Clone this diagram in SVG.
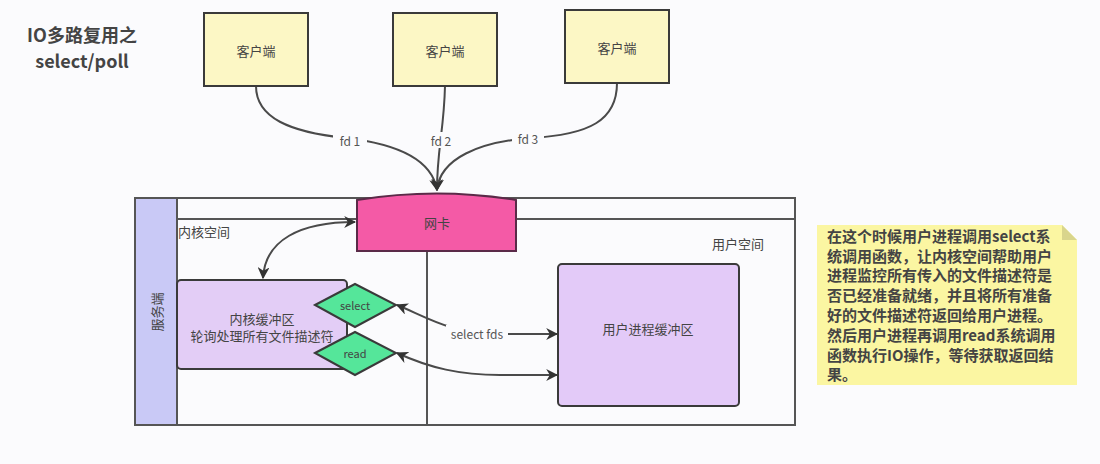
<svg xmlns="http://www.w3.org/2000/svg" width="1100" height="464" viewBox="0 0 1100 464">
<defs>
<style>
.t{font-family:"Noto Sans CJK SC","Liberation Sans",sans-serif;fill:#444;}
.c{text-anchor:middle;dominant-baseline:central;}
.box{stroke:#3a3a3a;stroke-width:2;}
.ln{fill:none;stroke:#4a4a4a;stroke-width:2;}
.frame{fill:none;stroke:#555;stroke-width:2;}
.lbl{font-size:12px;fill:#555;}
</style>
<marker id="ah2" viewBox="0 0 10 10" refX="9" refY="5" markerWidth="12" markerHeight="12" markerUnits="userSpaceOnUse" orient="auto-start-reverse">
<path d="M0,0 L10,5 L0,10 L3,5 Z" fill="#333"/>
</marker>
</defs>
<rect width="1100" height="464" fill="#fbfbfd"/>

<g id="title">
<text class="t c" x="82" y="34" font-size="18" font-weight="bold" fill="#555">IO多路复用之</text>
<text class="t c" x="82" y="60" font-size="18" font-weight="bold" fill="#555">select/poll</text>
</g>

<g id="server-frame">
<rect x="135" y="198" width="660" height="227" class="frame"/>
<rect x="135" y="198" width="42" height="227" fill="#c9c9f6" stroke="#555" stroke-width="2"/>
<line x1="177" y1="219" x2="795" y2="219" stroke="#555" stroke-width="2"/>
<line x1="427" y1="251" x2="427" y2="425" stroke="#555" stroke-width="2"/>
<text class="t c" transform="translate(156,312) rotate(-90)" font-size="13" fill="#666">服务端</text>
<text class="t" x="178" y="237" font-size="13">内核空间</text>
<text class="t" x="712" y="249" font-size="13">用户空间</text>
</g>

<g id="connectors">
<path class="ln" d="M256,86 C256,118 290,132 345,138 C400,144 432,160 437,190" marker-end="url(#ah2)"/>
<path class="ln" d="M445,86 C444,130 437,150 437,190" marker-end="url(#ah2)"/>
<path class="ln" d="M617,83 C617,120 590,135 530,138 C480,142 440,158 437,190" marker-end="url(#ah2)"/>
<path class="ln" d="M355,222 C300,222 265,240 263,278" marker-start="url(#ah2)" marker-end="url(#ah2)"/>
<path class="ln" d="M397,305 C425,316 450,334 500,334 L557,334" marker-start="url(#ah2)" marker-end="url(#ah2)"/>
<path class="ln" d="M397,353 C430,368 460,375 500,375 L557,375" marker-start="url(#ah2)" marker-end="url(#ah2)"/>
<rect x="333" y="132" width="34" height="16" fill="#fbfbfd"/>
<text class="t c lbl" x="350" y="140">fd 1</text>
<rect x="425" y="132" width="32" height="16" fill="#fbfbfd"/>
<text class="t c lbl" x="441" y="140">fd 2</text>
<rect x="512" y="130" width="32" height="16" fill="#fbfbfd"/>
<text class="t c lbl" x="528" y="138">fd 3</text>
<rect x="446" y="325" width="62" height="17" fill="#fbfbfd"/>
<text class="t c lbl" x="477" y="333">select fds</text>
</g>

<g id="client1">
<rect x="204" y="13" width="104" height="73" fill="#fcf7c5" class="box"/>
<text class="t c" x="256" y="50" font-size="13">客户端</text>
</g>
<g id="client2">
<rect x="393" y="13" width="104" height="73" fill="#fcf7c5" class="box"/>
<text class="t c" x="445" y="50" font-size="13">客户端</text>
</g>
<g id="client3">
<rect x="565" y="10" width="104" height="73" fill="#fcf7c5" class="box"/>
<text class="t c" x="617" y="47" font-size="13">客户端</text>
</g>

<g id="nic">
<path d="M357,200 Q437,187 516,200 L516,251 L357,251 Z" fill="#f45aa6" stroke="#5a2a48" stroke-width="2"/>
<text class="t c" x="437" y="222" font-size="13" fill="#503040">网卡</text>
</g>

<g id="kernel-buffer">
<rect x="177" y="280" width="170" height="89" rx="4" fill="#e3cdf6" class="box"/>
<text class="t c" x="262" y="318" font-size="13">内核缓冲区</text>
<text class="t c" x="262" y="335" font-size="13">轮询处理所有文件描述符</text>
</g>

<g id="select-diamond">
<path d="M315,305 L355,284 L396,305 L355,327 Z" fill="#55e69a" class="box"/>
<text class="t c" x="355" y="305" font-size="11">select</text>
</g>
<g id="read-diamond">
<path d="M315,353 L355,332 L396,353 L355,375 Z" fill="#55e69a" class="box"/>
<text class="t c" x="355" y="353" font-size="11">read</text>
</g>

<g id="user-buffer">
<rect x="558" y="264" width="181" height="142" rx="4" fill="#e3caf8" class="box"/>
<text class="t c" x="648" y="328" font-size="13">用户进程缓冲区</text>
</g>

<g id="note">
<path d="M817,225 L1062,225 L1077,240 L1077,385 L817,385 Z" fill="#fbf6a2"/>
<path d="M1062,225 L1077,240 L1062,240 Z" fill="#d9d58c"/>
<g class="t" font-size="15" font-weight="bold" fill="#333">
<text x="827" y="242">在这个时候用户进程调用select系</text>
<text x="827" y="262">统调用函数，让内核空间帮助用户</text>
<text x="827" y="281">进程监控所有传入的文件描述符是</text>
<text x="827" y="301">否已经准备就绪，并且将所有准备</text>
<text x="827" y="321">好的文件描述符返回给用户进程。</text>
<text x="827" y="341">然后用户进程再调用read系统调用</text>
<text x="827" y="361">函数执行IO操作，等待获取返回结</text>
<text x="827" y="380">果。</text>
</g>
</g>
</svg>
